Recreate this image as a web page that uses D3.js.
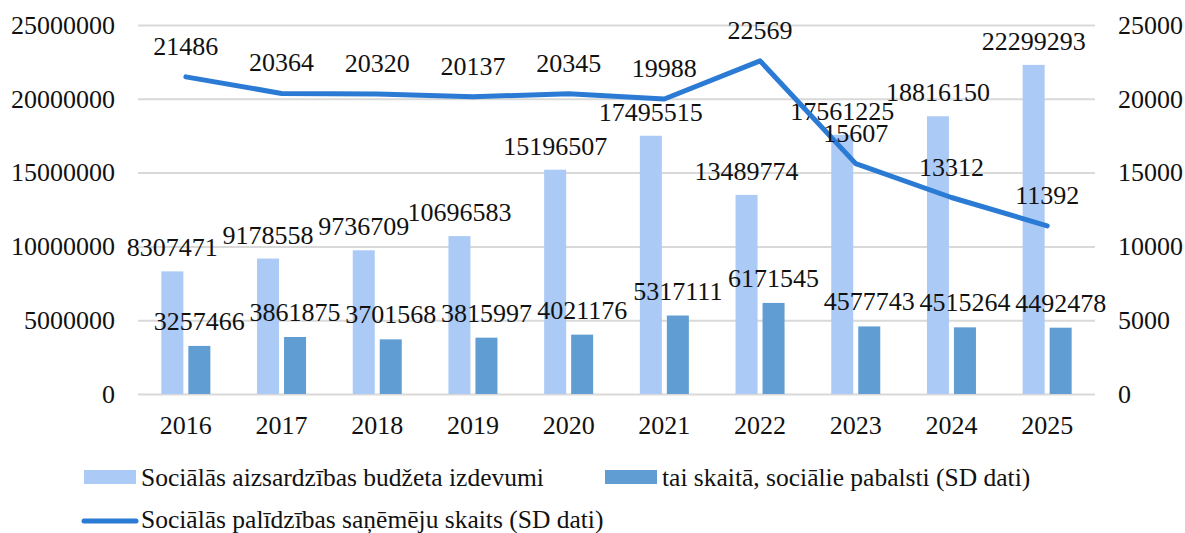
<!DOCTYPE html>
<html>
<head>
<meta charset="UTF-8">
<title>Sociālā aizsardzība</title>
<script src="https://cdn.jsdelivr.net/npm/d3@7"></script>
<style>
  body { margin: 0; background: #fff; }
  text { font-family: "Liberation Serif", serif; fill: #111; }
</style>
</head>
<body>
<div id="chart"></div>
<script>

// data
var years     = ["2016","2017","2018","2019","2020","2021","2022","2023","2024","2025"]
var budget    = [8307471, 9178558, 9736709, 10696583, 15196507, 17495515, 13489774, 17561225, 18816150, 22299293]
var benefits  = [3257466, 3861875, 3701568, 3815997, 4021176, 5317111, 6171545, 4577743, 4515264, 4492478]
var receivers = [21486, 20364, 20320, 20137, 20345, 19988, 22569, 15607, 13312, 11392]

var leftTicks  = [0, 5000000, 10000000, 15000000, 20000000, 25000000]
var rightTicks = [0, 5000, 10000, 15000, 20000, 25000]

var legendNames = ["Sociālās aizsardzības budžeta izdevumi",
                   "tai skaitā, sociālie pabalsti (SD dati)",
                   "Sociālās palīdzības saņēmēju skaits (SD dati)"]

// look (note: "top" is taken by window.top, so plot edges get a prefix)
var W = 1185, H = 533
var plotL = 138, plotR = 1095, plotT = 25, plotB = 394
var cLight = "#abcaf6", cDark = "#609dd2", cLine = "#2b7bd5", cGrid = "#d9d9d9"
var fs = 26, legFs = 25.5

var svg = d3.select("#chart").append("svg")
	.attr("width", W)
	.attr("height", H)

var x = d3.scaleBand().domain(years).range([plotL, plotR]).padding(0)
var inner = d3.scaleBand().domain(["b","p"]).range([-24.5, 24.5]).paddingInner(0.185)
var yL = d3.scaleLinear().domain([0, 25000000]).range([plotB, plotT])
var yR = d3.scaleLinear().domain([0, 25000]).range([plotB, plotT])

function styleText(g) {
	g.select(".domain").remove()
	g.selectAll("text").attr("font-size", fs).attr("font-family", "Liberation Serif").attr("fill", "#111")
}

// grid
svg.append("g")
	.attr("transform", "translate(" + plotL + ",0)")
	.call(d3.axisLeft(yL).tickValues(leftTicks).tickSize(-(plotR - plotL)).tickFormat(""))
	.call(function(g) {
		g.select(".domain").remove()
		g.selectAll("line").attr("stroke", cGrid).attr("stroke-width", 2)
	})

// left axis labels
svg.append("g")
	.attr("transform", "translate(" + (plotL - 23) + ",0)")
	.call(d3.axisLeft(yL).tickValues(leftTicks).tickSize(0).tickPadding(0).tickFormat(d3.format("d")))
	.call(styleText)

// right axis labels
svg.append("g")
	.attr("transform", "translate(" + (plotR + 23) + ",0)")
	.call(d3.axisRight(yR).tickValues(rightTicks).tickSize(0).tickPadding(0).tickFormat(d3.format("d")))
	.call(styleText)

// year labels
svg.append("g")
	.attr("transform", "translate(0," + (plotB + 22) + ")")
	.call(d3.axisBottom(x).tickSize(0).tickPadding(0))
	.call(styleText)

var rows = years.map(function(y, i) {
	return { year: y, b: budget[i], p: benefits[i], r: receivers[i] }
})

var groups = svg.selectAll(".grp")
	.data(rows).enter()
	.append("g")
	.attr("class", "grp")
	.attr("transform", function(d) { return "translate(" + (x(d.year) + x.bandwidth() / 2) + ",0)" })

groups.append("rect")
	.attr("x", inner("b"))
	.attr("width", inner.bandwidth())
	.attr("y", function(d) { return yL(d.b) })
	.attr("height", function(d) { return plotB - yL(d.b) })
	.attr("fill", cLight)

groups.append("rect")
	.attr("x", inner("p"))
	.attr("width", inner.bandwidth())
	.attr("y", function(d) { return yL(d.p) })
	.attr("height", function(d) { return plotB - yL(d.p) })
	.attr("fill", cDark)

// bar labels, outside end
groups.append("text")
	.text(function(d) { return d.b })
	.attr("x", inner("b") + inner.bandwidth() / 2)
	.attr("y", function(d) { return yL(d.b) - 15 })
	.attr("text-anchor", "middle")
	.attr("font-size", fs)

groups.append("text")
	.text(function(d) { return d.p })
	.attr("x", inner("p") + inner.bandwidth() / 2)
	.attr("y", function(d) { return yL(d.p) - 16 })
	.attr("text-anchor", "middle")
	.attr("font-size", fs)

// receivers line
var line = d3.line()
	.x(function(d) { return x(d.year) + x.bandwidth() / 2 })
	.y(function(d) { return yR(d.r) })

svg.append("path")
	.datum(rows)
	.attr("d", line)
	.attr("fill", "none")
	.attr("stroke", cLine)
	.attr("stroke-width", 5)
	.attr("stroke-linecap", "round")
	.attr("stroke-linejoin", "round")

svg.selectAll(".lbl")
	.data(rows).enter()
	.append("text")
	.attr("class", "lbl")
	.text(function(d) { return d.r })
	.attr("x", function(d) { return x(d.year) + x.bandwidth() / 2 })
	.attr("y", function(d) { return yR(d.r) - 22 })
	.attr("text-anchor", "middle")
	.attr("font-size", fs)

// legend
var lg = svg.append("g")
lg.append("rect").attr("x", 84).attr("y", 470).attr("width", 52).attr("height", 14).attr("fill", cLight)
lg.append("text").attr("x", 141).attr("y", 477).attr("dy", "0.35em").attr("font-size", legFs).text(legendNames[0])
lg.append("rect").attr("x", 605).attr("y", 470).attr("width", 52).attr("height", 14).attr("fill", cDark)
lg.append("text").attr("x", 662).attr("y", 477).attr("dy", "0.35em").attr("font-size", legFs).text(legendNames[1])
lg.append("line").attr("x1", 84).attr("x2", 136).attr("y1", 521).attr("y2", 521)
	.attr("stroke", cLine).attr("stroke-width", 5).attr("stroke-linecap", "round")
lg.append("text").attr("x", 141).attr("y", 519).attr("dy", "0.35em").attr("font-size", legFs).text(legendNames[2])

</script>
</body>
</html>
